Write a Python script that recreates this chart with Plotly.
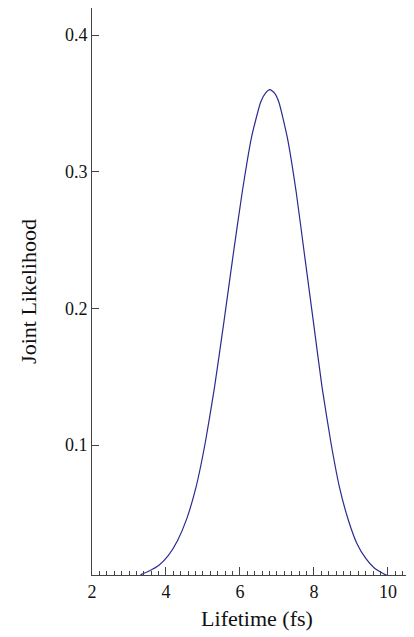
import plotly.graph_objects as go

# Joint likelihood vs lifetime
lifetime = [3.31, 3.56, 3.81, 4.06, 4.31, 4.56, 4.81, 5.06, 5.31, 5.56, 5.81, 6.06, 6.31,
            6.56, 6.69, 6.81, 6.93, 7.05, 7.28, 7.52, 7.75, 7.99, 8.22, 8.46, 8.69,
            8.93, 9.16, 9.40, 9.63, 9.87, 10.1]
likelihood = [0.005, 0.008, 0.012, 0.019, 0.03, 0.046, 0.069, 0.1015, 0.142, 0.189,
              0.238, 0.285, 0.325, 0.351, 0.3575, 0.36, 0.3577, 0.351, 0.325, 0.285,
              0.238, 0.189, 0.142, 0.1015, 0.069, 0.045, 0.028, 0.017, 0.01, 0.006,
              0.003]

x_ticks = [2, 4, 6, 8, 10]
y_ticks = [0.1, 0.2, 0.3, 0.4]

fig = go.Figure()
fig.add_scatter(x=lifetime, y=likelihood, mode='lines',
                line=dict(color='#2b2b8f', width=1.2, shape='spline', smoothing=0.5),
                showlegend=False)

font = dict(family='Liberation Serif', size=18, color='#111')
fig.update_layout(
    width=414, height=637, plot_bgcolor='white', paper_bgcolor='white',
    margin=dict(l=84, r=0, t=0, b=70), font=font,
    xaxis=dict(range=[2, 10.92], tickvals=x_ticks, ticks='inside', ticklen=8,
               showline=True, linecolor='#444', linewidth=1, mirror=True,
               showgrid=False, zeroline=False, automargin=False,
               minor=dict(dtick=0.2, ticks='inside', ticklen=4, tickcolor='#444'),
               title=dict(text='Lifetime (fs)', standoff=10)),
    yaxis=dict(range=[0.0049, 0.4198], tickvals=y_ticks, ticks='inside', ticklen=7,
               showline=True, linecolor='#444', linewidth=1,
               showgrid=False, zeroline=False, automargin=False,
               title=dict(text='Joint Likelihood', standoff=22)),
)
fig.write_html("out.html")
